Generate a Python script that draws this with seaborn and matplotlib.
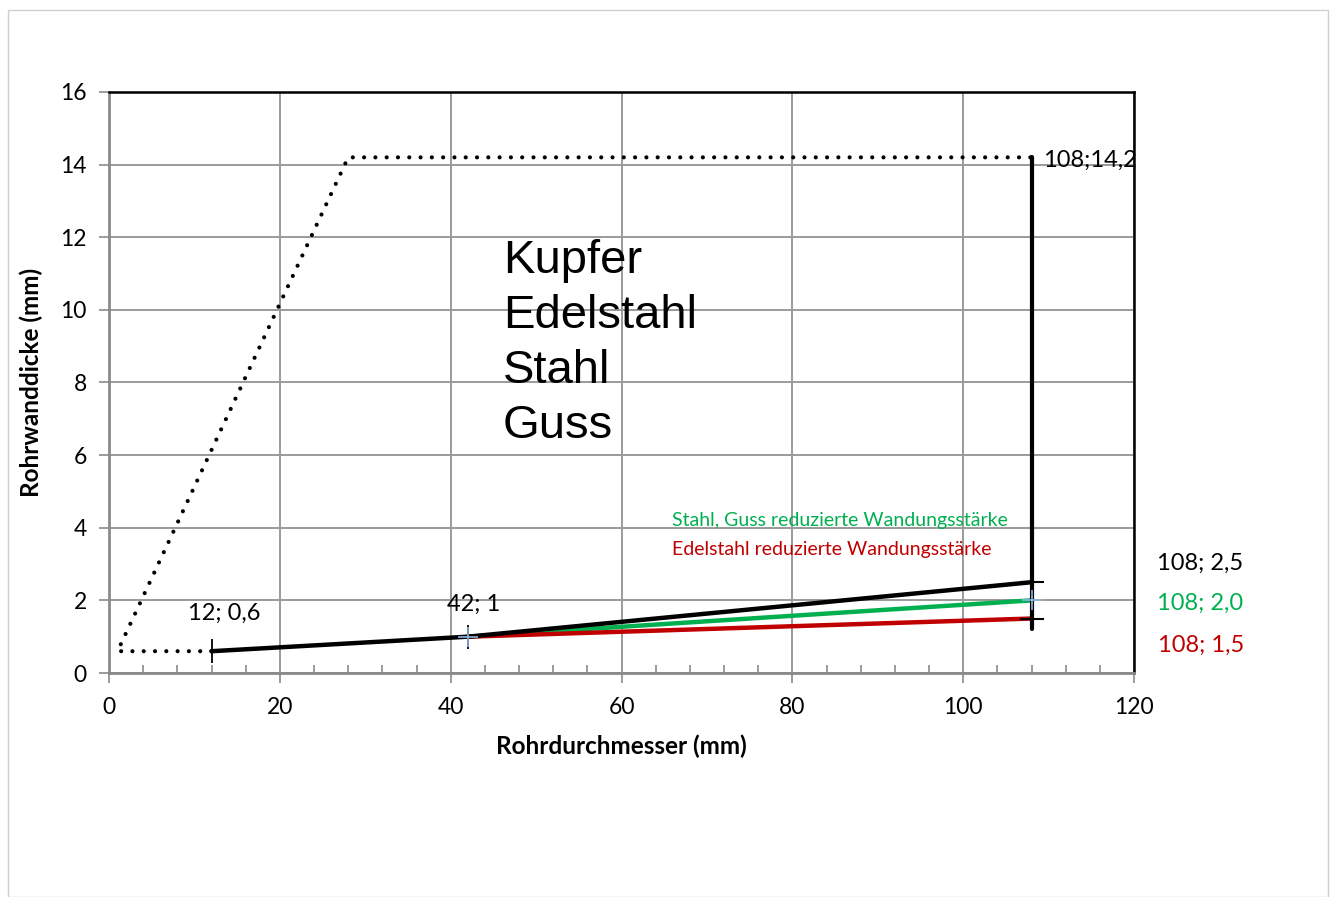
import matplotlib
matplotlib.use("Agg")
import matplotlib.pyplot as plt
import seaborn as sns
import pandas as pd
from matplotlib.patches import Rectangle
from matplotlib.ticker import MultipleLocator

# ---- data ----
dotted_x = [12, 1, 28, 108]
dotted_y = [0.6, 0.6, 14.2, 14.2]
black_x = [12, 42, 108]
black_y = [0.6, 1.0, 2.5]
green_x = [42, 108]
green_y = [1.0, 2.0]
red_x = [42, 108]
red_y = [1.0, 1.5]
vert_x = [108, 108]
vert_y = [14.2, 1.2]
materials = ["Kupfer", "Edelstahl", "Stahl", "Guss"]
x_ticks = [0, 20, 40, 60, 80, 100, 120]
y_ticks = [0, 2, 4, 6, 8, 10, 12, 14, 16]

sns.set_style("white")
plt.rcParams['font.family'] = ['Lato', 'DejaVu Sans']
plt.rcParams['text.color'] = 'black'
plt.rcParams['axes.labelcolor'] = 'black'

fig = plt.figure(figsize=(13.36, 8.97), dpi=100)
fig.patches.append(Rectangle((0.006, 0.0), 0.988, 0.989, transform=fig.transFigure,
                             fill=False, edgecolor="#d0d0d0", lw=1.0))
ax = fig.add_axes([109/1336, 1-673/897, (1134-109)/1336, (673-92)/897])

BLACK = "#000000"
GREEN = "#00B050"
RED = "#C00000"
LBLUE = "#8EB4E3"

df_dot = pd.DataFrame({"x": dotted_x, "y": dotted_y})
sns.lineplot(data=df_dot, x="x", y="y", sort=False, ax=ax, color=BLACK, lw=3.0,
             linestyle=(0, (0.01, 2.7)), estimator=None)
ax.lines[-1].set_dash_capstyle("round")

sns.lineplot(x=green_x, y=green_y, ax=ax, color=GREEN, lw=3.2, estimator=None)
sns.lineplot(x=red_x, y=red_y, ax=ax, color=RED, lw=3.2, estimator=None)
sns.lineplot(x=black_x, y=black_y, ax=ax, color=BLACK, lw=3.2, estimator=None)
sns.lineplot(x=vert_x, y=vert_y, ax=ax, color=BLACK, lw=3.0, estimator=None)

# markers
ax.plot(black_x[:2], black_y[:2], linestyle="none", marker="|", ms=17, mew=1.3, color=BLACK)
ax.plot([108, 108], [black_y[2], red_y[1]], linestyle="none", marker="_", ms=17, mew=1.5, color=BLACK)
ax.plot([green_x[0], green_x[1]], [green_y[0], green_y[1]], linestyle="none", marker="+",
        ms=14, mew=1.2, color=LBLUE)

ax.set_xlim(0, 120)
ax.set_ylim(0, 16)
ax.set_xticks(x_ticks)
ax.set_yticks(y_ticks)
ax.xaxis.set_minor_locator(MultipleLocator(4))
ax.grid(True, which="major", color="#9a9a9a", lw=1.4)
ax.set_axisbelow(True)

for s in ["left", "bottom"]:
    ax.spines[s].set_color("#8a8a8a")
    ax.spines[s].set_linewidth(2.0)
for s in ["top", "right"]:
    ax.spines[s].set_color(BLACK)
    ax.spines[s].set_linewidth(1.8)

ax.tick_params(axis="both", which="major", direction="out", length=7, width=1.2,
               color="#8a8a8a", labelsize=16.5, labelcolor=BLACK, left=True, bottom=True)
ax.tick_params(axis="x", which="major", pad=10)
ax.tick_params(axis="y", which="major", pad=9)
ax.tick_params(axis="x", which="minor", direction="in", length=6, width=1.2, color="#8a8a8a", bottom=True)

ax.set_xlabel("Rohrdurchmesser (mm)", fontsize=17.5, fontweight="bold", labelpad=12, color=BLACK)
ax.set_ylabel("Rohrwanddicke (mm)", fontsize=17.5, fontweight="bold", labelpad=12, color=BLACK)

# big material text
for i, m in enumerate(materials):
    ax.text(46.1, 11.02 - i * 1.515, m, fontsize=34, family=["Liberation Sans"],
            ha="left", va="baseline", color=BLACK)

ax.text(65.9, 4.19, "Stahl, Guss reduzierte Wandungsstärke", fontsize=14, color=GREEN,
        ha="left", va="center")
ax.text(65.9, 3.39, "Edelstahl reduzierte Wandungsstärke", fontsize=14, color=RED,
        ha="left", va="center")

FS = 17
ax.text(9.25, 1.65, "12; 0,6", fontsize=FS, ha="left", va="center", color=BLACK)
ax.text(39.6, 1.90, "42; 1", fontsize=FS, ha="left", va="center", color=BLACK)
ax.text(109.4, 14.13, "108;14,2", fontsize=FS, ha="left", va="center", color=BLACK, clip_on=False)
ax.text(122.7, 3.03, "108; 2,5", fontsize=FS, ha="left", va="center", color=BLACK, clip_on=False)
ax.text(122.7, 1.93, "108; 2,0", fontsize=FS, ha="left", va="center", color=GREEN, clip_on=False)
ax.text(122.8, 0.77, "108; 1,5", fontsize=FS, ha="left", va="center", color=RED, clip_on=False)

fig.savefig("out.png", dpi=100)
